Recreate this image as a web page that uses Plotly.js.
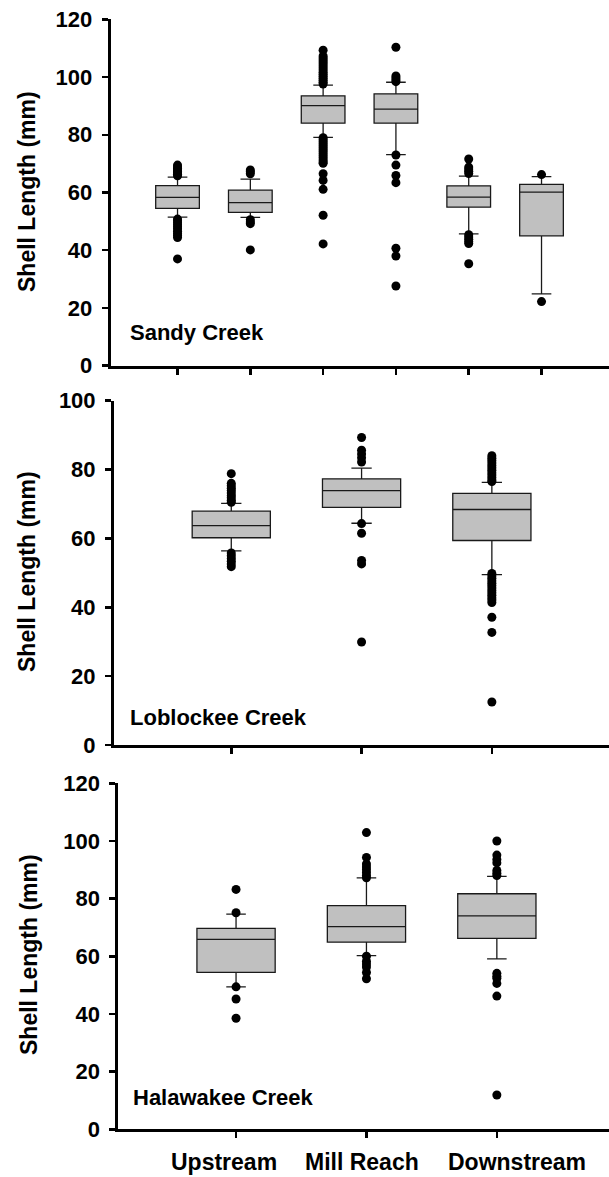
<!DOCTYPE html>
<html>
<head>
<meta charset="utf-8">
<script src="https://cdn.plot.ly/plotly-3.0.1.min.js"></script>
<style>
  html, body { margin: 0; padding: 0; background: #ffffff; }
  #chart { width: 609px; height: 1177px; }
</style>
</head>
<body>
<div id="chart"></div>
<script>
// ---------------- DATA ----------------
const siteLabels = ["Upstream", "Mill Reach", "Downstream"];
const panelNames = ["Sandy Creek", "Loblockee Creek", "Halawakee Creek"];
const yTitle = "Shell Length (mm)";

// Sandy Creek: two samples per site (Upstream, Upstream, Mill, Mill, Downstream, Downstream)
const sandyPos = [0, 1, 2, 3, 4, 5];
const sandyQ1 = [54.5, 53.1, 84.0, 84.0, 54.9, 45.0];
const sandyMedian = [58.3, 56.5, 90.1, 88.9, 58.4, 60.1];
const sandyQ3 = [62.4, 60.8, 93.5, 94.2, 62.3, 62.8];
const sandyLower = [51.5, 51.4, 79.1, 73.1, 45.7, 24.9];
const sandyUpper = [65.3, 64.6, 97.2, 98.2, 65.7, 65.5];
const sandyOutliers = [
  [69.5, 68.8, 68.3, 67.8, 67.3, 66.8, 66.3, 65.8, 50.8, 50.2, 49.5, 48.8, 48.1, 47.4, 46.6, 45.8, 45.1, 44.4, 37.0],
  [67.8, 67.2, 66.5, 50.6, 49.8, 49.2, 40.1],
  [109.3, 107.3, 106.6, 105.9, 105.2, 104.5, 103.8, 103.1, 102.4, 101.7, 101.0, 100.3, 99.6, 98.9, 98.2, 97.6,
   79.0, 78.3, 77.6, 76.9, 76.2, 75.5, 74.8, 74.1, 73.4, 72.7, 72.0, 71.3, 70.6, 70.1, 66.5, 64.2, 61.1, 52.1, 42.2],
  [110.3, 100.4, 99.7, 99.0, 98.4, 73.0, 69.5, 65.9, 63.4, 40.7, 38.0, 27.6],
  [71.6, 68.8, 68.1, 67.4, 66.6, 45.4, 44.6, 43.8, 43.0, 42.3, 35.3],
  [66.2, 22.2]
];

// Loblockee Creek
const lobPos = [0, 1, 2];
const lobQ1 = [60.2, 69.0, 59.4];
const lobMedian = [63.7, 73.9, 68.4];
const lobQ3 = [67.9, 77.3, 73.1];
const lobLower = [56.4, 64.4, 49.5];
const lobUpper = [70.2, 80.4, 76.3];
const lobOutliers = [
  [78.8, 76.0, 75.3, 74.6, 73.9, 73.2, 72.5, 71.8, 71.1, 70.5, 55.8, 55.0, 54.2, 53.4, 52.6, 51.8],
  [89.3, 85.6, 84.5, 83.4, 82.2, 64.3, 61.5, 53.6, 52.6, 29.9],
  [84.0, 83.3, 82.6, 81.9, 81.2, 80.5, 79.8, 79.1, 78.4, 77.7, 77.0, 76.5,
   49.8, 49.1, 48.4, 47.7, 47.0, 46.3, 45.6, 44.9, 44.2, 43.5, 42.8, 42.1, 41.4, 37.1, 32.7, 12.5]
];

// Halawakee Creek
const halaPos = [0, 1, 2];
const halaQ1 = [54.4, 64.9, 66.2];
const halaMedian = [65.9, 70.3, 74.0];
const halaQ3 = [69.7, 77.6, 81.7];
const halaLower = [49.4, 60.2, 59.1];
const halaUpper = [74.6, 87.2, 87.7];
const halaOutliers = [
  [83.2, 75.1, 49.4, 45.2, 38.5],
  [102.9, 94.3, 92.0, 91.0, 90.0, 89.0, 88.0, 87.2, 60.0, 58.3, 57.3, 56.3, 54.4, 52.2],
  [100.0, 95.1, 93.6, 92.4, 89.8, 88.8, 88.0, 54.1, 53.1, 52.4, 50.6, 46.2, 11.9]
];

// ---------------- STYLE / BUILD ----------------
const FONT = "Liberation Sans, Arial, Helvetica, sans-serif";
const W = 609, H = 1177;
const labelShift = [-12, -4, 20];   // horizontal nudges of the category labels (px)

function boxTrace(pos, q1, med, q3, lo, hi, xa, ya, ww) {
  return {
    type: "box", x: pos, q1: q1, median: med, q3: q3,
    lowerfence: lo, upperfence: hi,
    boxpoints: false, width: 0.6, whiskerwidth: ww,
    fillcolor: "#c0c0c0",
    line: { color: "#1a1a1a", width: 1.3 },
    xaxis: xa, yaxis: ya, showlegend: false, hoverinfo: "skip"
  };
}
function outlierTrace(pos, lists, xa, ya) {
  const xs = [], ys = [];
  lists.forEach((arr, i) => arr.forEach(v => { xs.push(pos[i]); ys.push(v); }));
  return {
    type: "scatter", mode: "markers", x: xs, y: ys,
    marker: { color: "#000000", size: 9, line: { width: 0 } },
    xaxis: xa, yaxis: ya, showlegend: false, hoverinfo: "skip"
  };
}

const data = [
  boxTrace(sandyPos, sandyQ1, sandyMedian, sandyQ3, sandyLower, sandyUpper, "x", "y", 0.45),
  outlierTrace(sandyPos, sandyOutliers, "x", "y"),
  boxTrace(lobPos, lobQ1, lobMedian, lobQ3, lobLower, lobUpper, "x2", "y2", 0.26),
  outlierTrace(lobPos, lobOutliers, "x2", "y2"),
  boxTrace(halaPos, halaQ1, halaMedian, halaQ3, halaLower, halaUpper, "x3", "y3", 0.25),
  outlierTrace(halaPos, halaOutliers, "x3", "y3")
];

function xAxis(domainLeft, range, tickvals, anchor) {
  return {
    domain: [domainLeft, 1], range: range, anchor: anchor,
    showline: true, linewidth: 3, linecolor: "#000",
    ticks: "outside", ticklen: 6, tickwidth: 2.5, tickcolor: "#000",
    tickvals: tickvals, ticktext: tickvals.map(() => ""),
    showgrid: false, zeroline: false, fixedrange: true
  };
}
function yAxis(domain, range, dtick, anchor) {
  return {
    domain: domain, range: range, anchor: anchor,
    showline: true, linewidth: 3, linecolor: "#000",
    ticks: "outside", ticklen: 6, tickwidth: 2.5, tickcolor: "#000",
    tick0: 0, dtick: dtick,
    showgrid: false, zeroline: false, fixedrange: true,
    tickfont: { family: FONT, size: 22, color: "#000", weight: "bold" },
    ticklabelstandoff: 5
  };
}

const annotations = [
  { text: yTitle, xref: "paper", yref: "paper", x: 27 / W, y: 1 - 192 / H, textangle: -90,
    showarrow: false, xanchor: "center", yanchor: "middle",
    font: { family: FONT, size: 23, color: "#000", weight: "bold" } },
  { text: yTitle, xref: "paper", yref: "paper", x: 27 / W, y: 1 - 572 / H, textangle: -90,
    showarrow: false, xanchor: "center", yanchor: "middle",
    font: { family: FONT, size: 23, color: "#000", weight: "bold" } },
  { text: yTitle, xref: "paper", yref: "paper", x: 29 / W, y: 1 - 955 / H, textangle: -90,
    showarrow: false, xanchor: "center", yanchor: "middle",
    font: { family: FONT, size: 23, color: "#000", weight: "bold" } },
  { text: panelNames[0], xref: "paper", yref: "paper", x: 128 / W, y: 1 - 332 / H,
    showarrow: false, xanchor: "left", yanchor: "middle",
    font: { family: FONT, size: 22, color: "#000", weight: "bold" } },
  { text: panelNames[1], xref: "paper", yref: "paper", x: 128 / W, y: 1 - 717 / H,
    showarrow: false, xanchor: "left", yanchor: "middle",
    font: { family: FONT, size: 22, color: "#000", weight: "bold" } },
  { text: panelNames[2], xref: "paper", yref: "paper", x: 131 / W, y: 1 - 1097 / H,
    showarrow: false, xanchor: "left", yanchor: "middle",
    font: { family: FONT, size: 22, color: "#000", weight: "bold" } }
];
// category labels under the bottom panel (placed on the x3 axis positions)
siteLabels.forEach((lab, i) => {
  annotations.push({
    text: lab, xref: "x3", yref: "paper", x: halaPos[i], y: 1 - 1162 / H,
    xshift: labelShift[i], showarrow: false, xanchor: "center", yanchor: "middle",
    font: { family: FONT, size: 23, color: "#000", weight: "bold" }
  });
});

const layout = {
  width: W, height: H,
  margin: { l: 0, r: 0, t: 0, b: 0 },
  paper_bgcolor: "#ffffff", plot_bgcolor: "rgba(0,0,0,0)",
  font: { family: FONT, color: "#000" },
  xaxis: xAxis(110.7 / W, [-0.918, 5.927], sandyPos, "y"),
  yaxis: yAxis([1 - 365.7 / H, 1 - 19.3 / H], [0, 120], 20, "x"),
  xaxis2: xAxis(114 / W, [-0.9, 2.899], lobPos, "y2"),
  yaxis2: yAxis([1 - 745 / H, 1 - 400.7 / H], [0, 100], 20, "x2"),
  xaxis3: xAxis(118.3 / W, [-0.903, 2.86], halaPos, "y3"),
  yaxis3: yAxis([1 - 1129.3 / H, 1 - 783.3 / H], [0, 120], 20, "x3"),
  annotations: annotations
};

Plotly.newPlot("chart", data, layout, { staticPlot: true, displayModeBar: false });
</script>
</body>
</html>
